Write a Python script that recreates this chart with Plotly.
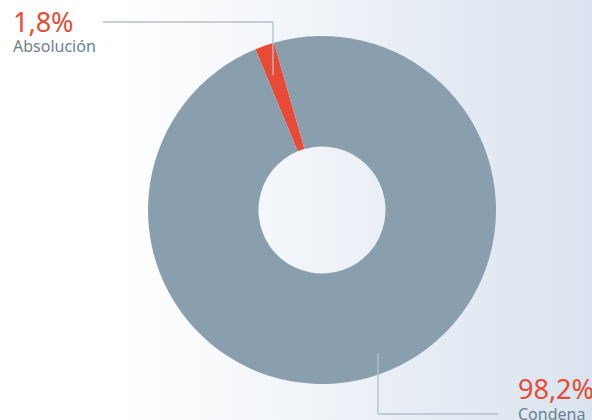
import plotly.graph_objects as go

labels = ["Absolución", "Condena"]
values = [1.8, 98.2]
value_text = ["1,8%", "98,2%"]
colors = ["#e84a35", "#8a9fae"]

W, H = 592, 420
def px(x):
    return x / W
def py(y):
    return 1 - y / H

fig = go.Figure()

# background gradient
fig.add_trace(go.Scatter(
    x=[0, 1, 1, 0, 0], y=[0, 0, 1, 1, 0], mode="lines", fill="toself",
    line=dict(width=0), hoverinfo="skip", showlegend=False,
    fillgradient=dict(type="horizontal",
                      colorscale=[[0, "#ffffff"], [0.2, "#ffffff"], [1, "#dae3ef"]]),
))

fig.add_trace(go.Pie(
    labels=labels, values=values, hole=0.365, sort=False,
    direction="clockwise", rotation=-22.5,
    marker=dict(colors=colors, line=dict(width=0)),
    textinfo="none", showlegend=False,
    domain=dict(x=[px(148), px(496)], y=[py(384), py(36)]),
))

line_col = "#b3c1cd"
shapes = [
    dict(type="line", xref="paper", yref="paper", x0=px(103), y0=py(22), x1=px(273), y1=py(22),
         line=dict(color=line_col, width=1.3)),
    dict(type="line", xref="paper", yref="paper", x0=px(273), y0=py(22), x1=px(273), y1=py(75),
         line=dict(color=line_col, width=1.3)),
    dict(type="line", xref="paper", yref="paper", x0=px(378), y0=py(353), x1=px(378), y1=py(414),
         line=dict(color=line_col, width=1.3)),
    dict(type="line", xref="paper", yref="paper", x0=px(378), y0=py(414), x1=px(498), y1=py(414),
         line=dict(color=line_col, width=1.3)),
]

red = "#e84a35"
gray = "#6c8190"
font = "Noto Sans"
annotations = [
    dict(x=px(11), y=py(1), xref="paper", yref="paper", xanchor="left", yanchor="top",
         text=value_text[0], showarrow=False, font=dict(family=font, size=27, color=red)),
    dict(x=px(11), y=py(33), xref="paper", yref="paper", xanchor="left", yanchor="top",
         text=labels[0], showarrow=False, font=dict(family=font, size=16, color=gray)),
    dict(x=px(516), y=py(368), xref="paper", yref="paper", xanchor="left", yanchor="top",
         text=value_text[1], showarrow=False, font=dict(family=font, size=27, color=red)),
    dict(x=px(516), y=py(400.5), xref="paper", yref="paper", xanchor="left", yanchor="top",
         text=labels[1], showarrow=False, font=dict(family=font, size=16, color=gray)),
]

fig.update_layout(
    width=W, height=H, margin=dict(l=0, r=0, t=0, b=0),
    paper_bgcolor="#ffffff", plot_bgcolor="rgba(0,0,0,0)",
    xaxis=dict(visible=False, range=[0, 1], domain=[0, 1], fixedrange=True),
    yaxis=dict(visible=False, range=[0, 1], domain=[0, 1], fixedrange=True),
    shapes=shapes, annotations=annotations, showlegend=False,
)

fig.write_html("out.html", config={"displayModeBar": False},
               post_script="document.body.style.margin='0';document.body.style.overflow='hidden';")
